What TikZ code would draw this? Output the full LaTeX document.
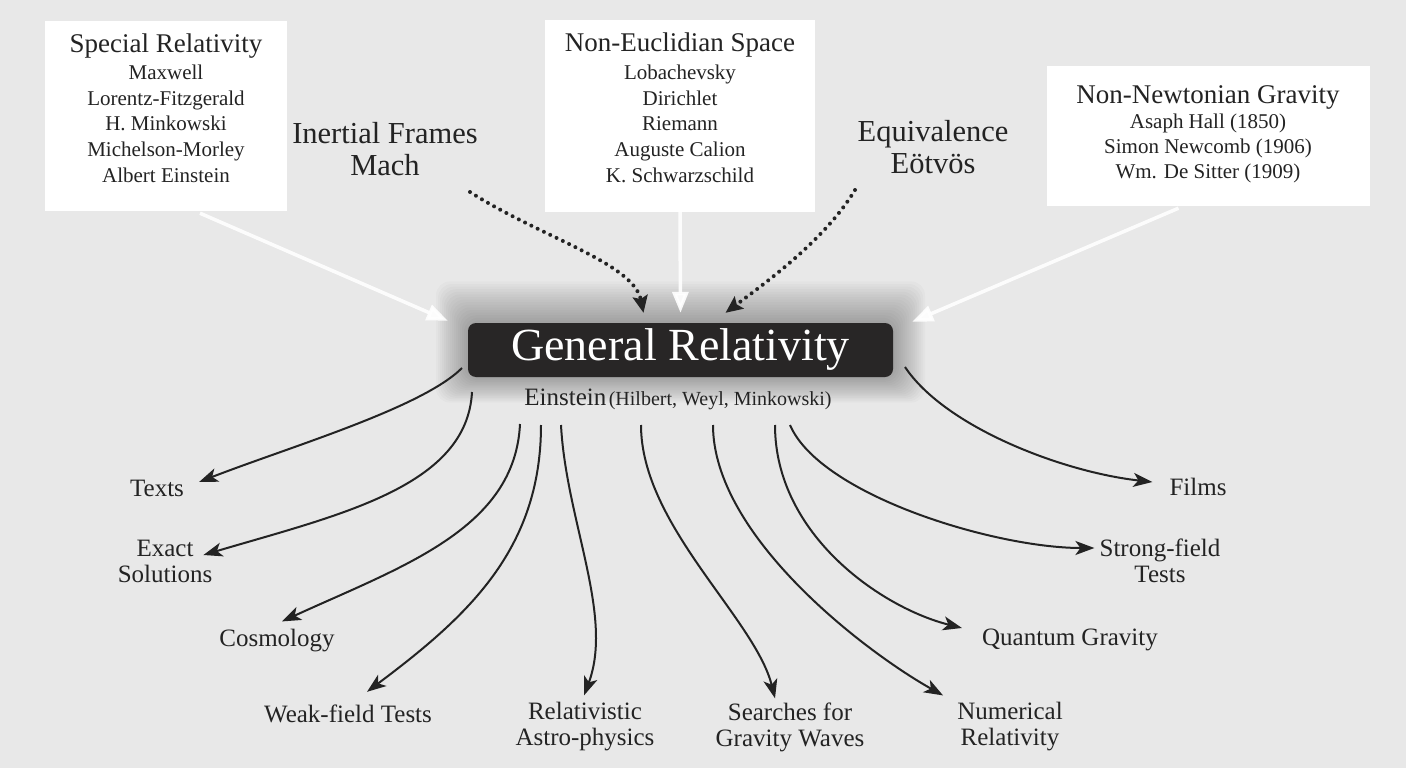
\documentclass[tikz,border=0pt]{standalone}
\usepackage{fontspec}
\setmainfont{Liberation Serif}
\usetikzlibrary{arrows.meta,calc}
\definecolor{bg}{RGB}{232,232,232}
\definecolor{ink}{RGB}{35,35,35}
\definecolor{grfill}{RGB}{40,38,38}
\begin{document}
\begin{tikzpicture}[x=1pt,y=-1pt,
  wbox/.style={fill=white,draw=none,inner sep=0pt},
  ttl/.style={font=\fontsize{27}{30}\selectfont,text=ink,inner sep=0pt},
  names/.style={font=\fontsize{21}{25.75}\selectfont,align=center,text=ink,inner sep=0pt},
  nnames/.style={font=\fontsize{21}{25}\selectfont,align=center,text=ink,inner sep=0pt},
  mid/.style={font=\fontsize{30.5}{32}\selectfont,align=center,text=ink,inner sep=0pt},
  leaf/.style={font=\fontsize{25}{26}\selectfont,align=center,text=ink,inner sep=0pt},
  grnode/.style={fill=grfill,rounded corners=8pt,minimum width=425pt,minimum height=54pt,
    text=white,font=\fontsize{46}{50}\selectfont,inner sep=0pt},
  darr/.style={draw=ink,line width=2pt,-{Stealth[length=19pt,width=14pt,inset=5pt]}},
  dotarr/.style={draw=ink,line width=4pt,line cap=round,dash pattern=on 0pt off 7pt,
    -{Stealth[length=17pt,width=15pt,inset=3pt]}},
  warr/.style={draw=white,line width=3.5pt,opacity=0.9,-{Triangle[length=21pt,width=16pt]}}
]
\fill[bg] (0,0) rectangle (1406,768);
\useasboundingbox (0,0) rectangle (1406,768);

% boxes
\node[wbox,minimum width=242pt,minimum height=190pt] (sr) at (166,116) {};
\node[ttl,anchor=base] (srt) at (166,53) {Special Relativity};
\node[names,anchor=north] (srn) at (166,64.5) {Maxwell\\Lorentz-Fitzgerald\\H. Minkowski\\Michelson-Morley\\Albert Einstein};

\node[wbox,minimum width=270pt,minimum height=192pt] (ne) at (680,116) {};
\node[ttl,anchor=base] (net) at (680,52) {Non-Euclidian Space};
\node[names,anchor=north] (nen) at (680,64.5) {Lobachevsky\\Dirichlet\\Riemann\\Auguste Calion\\K. Schwarzschild};

\node[wbox,minimum width=323pt,minimum height=140pt] (nn) at (1208.5,136) {};
\node[ttl,anchor=base] (nnt) at (1208,103) {Non-Newtonian Gravity};
\node[nnames,anchor=north] (nnn) at (1208,113.5) {Asaph Hall (1850)\\Simon Newcomb (1906)\\Wm. De Sitter (1909)};

\node[mid] (ine) at (385,149) {Inertial Frames\\Mach};
\node[mid] (equ) at (933,147) {Equivalence\\Eötvös};

% soft glow behind central node
\foreach \i in {1,...,16}
  \fill[black,opacity=0.018,rounded corners=14pt] ({468-\i*2},{323-\i*2.6}) rectangle ({893+\i*2},{377+\i*1.6});

\node[grnode] (gr) at (680.5,350) {General Relativity};
\node[anchor=base,text=ink,inner sep=0pt] (ein) at (678,405)
  {{\fontsize{25}{28}\selectfont Einstein} {\fontsize{20}{22}\selectfont (Hilbert, Weyl, Minkowski)}};

% incoming arrows
\draw[warr] ($(sr.south)+(34,2)$) -- ($(gr.north west)+(-20,-2)$);
\draw[warr] (ne.south) -- ($(gr.north)+(0,-10)$);
\draw[warr] ($(nn.south)+(-30,2)$) -- ($(gr.north east)+(19,-1)$);

\coordinate (d1) at (470,192);
\coordinate (d2) at (855,190);
\draw[dotarr] (d1) .. controls +(70,45) and +(-10,-50) .. ($(gr.north)+(-37,-10)$);
\draw[dotarr] (d2) .. controls +(-30,50) and +(40,-30) .. ($(gr.north)+(45,-10)$);

% leaves
\node[leaf] (texts) at (157,488) {Texts};
\node[leaf] (exact) at (165,561) {Exact\\Solutions};
\node[leaf] (cosmo) at (277,641) {Cosmology};
\node[leaf] (weak) at (348,714) {Weak-field Tests};
\node[leaf] (rel) at (585,727) {Relativistic\\Astro-physics};
\node[leaf] (search) at (790,727) {Searches for\\Gravity Waves};
\node[leaf] (num) at (1010,727) {Numerical\\Relativity};
\node[leaf] (quant) at (1070,640) {Quantum Gravity};
\node[leaf] (strong) at (1160,561) {Strong-field\\Tests};
\node[leaf] (films) at (1198,487) {Films};

% start points
\coordinate (s1) at (462,368);
\coordinate (s2) at (472,392);
\coordinate (s3) at (520,424);
\coordinate (s4) at (541,425);
\coordinate (s5) at (561,425);
\coordinate (s6) at (641,425);
\coordinate (s7) at (713,425);
\coordinate (s8) at (775,425);
\coordinate (s9) at (790,425);
\coordinate (s10) at (905,367);

\draw[darr] (s1) .. controls +(-40,40) and +(90,-35) .. ($(texts.east)+(15,-6)$);
\draw[darr] (s2) .. controls +(-5,95) and +(135,-40) .. ($(exact.east)+(-9,-6)$);
\draw[darr] (s3) .. controls +(-5,105) and +(120,-55) .. ($(cosmo.north)+(5,-8)$);
\draw[darr] (s4) .. controls +(0,125) and +(100,-75) .. ($(weak.north)+(19,-13)$);
\draw[darr] (s5) .. controls +(5,95) and +(30,-80) .. ($(rel.north)+(-1,-7)$);
\draw[darr] (s6) .. controls +(0,100) and +(-20,-80) .. ($(search.north)+(-15,-4)$);
\draw[darr] (s7) .. controls +(0,110) and +(-80,-45) .. ($(num.north west)+(-14,-7)$);
\draw[darr] (s8) .. controls +(0,110) and +(-80,-20) .. ($(quant.west)+(-20,-12)$);
\draw[darr] (s9) .. controls +(30,70) and +(-100,0) .. ($(strong.west)+(-5,-13)$);
\draw[darr] (s10) .. controls +(40,60) and +(-90,-10) .. ($(films.west)+(-17,-5)$);
\end{tikzpicture}
\end{document}
